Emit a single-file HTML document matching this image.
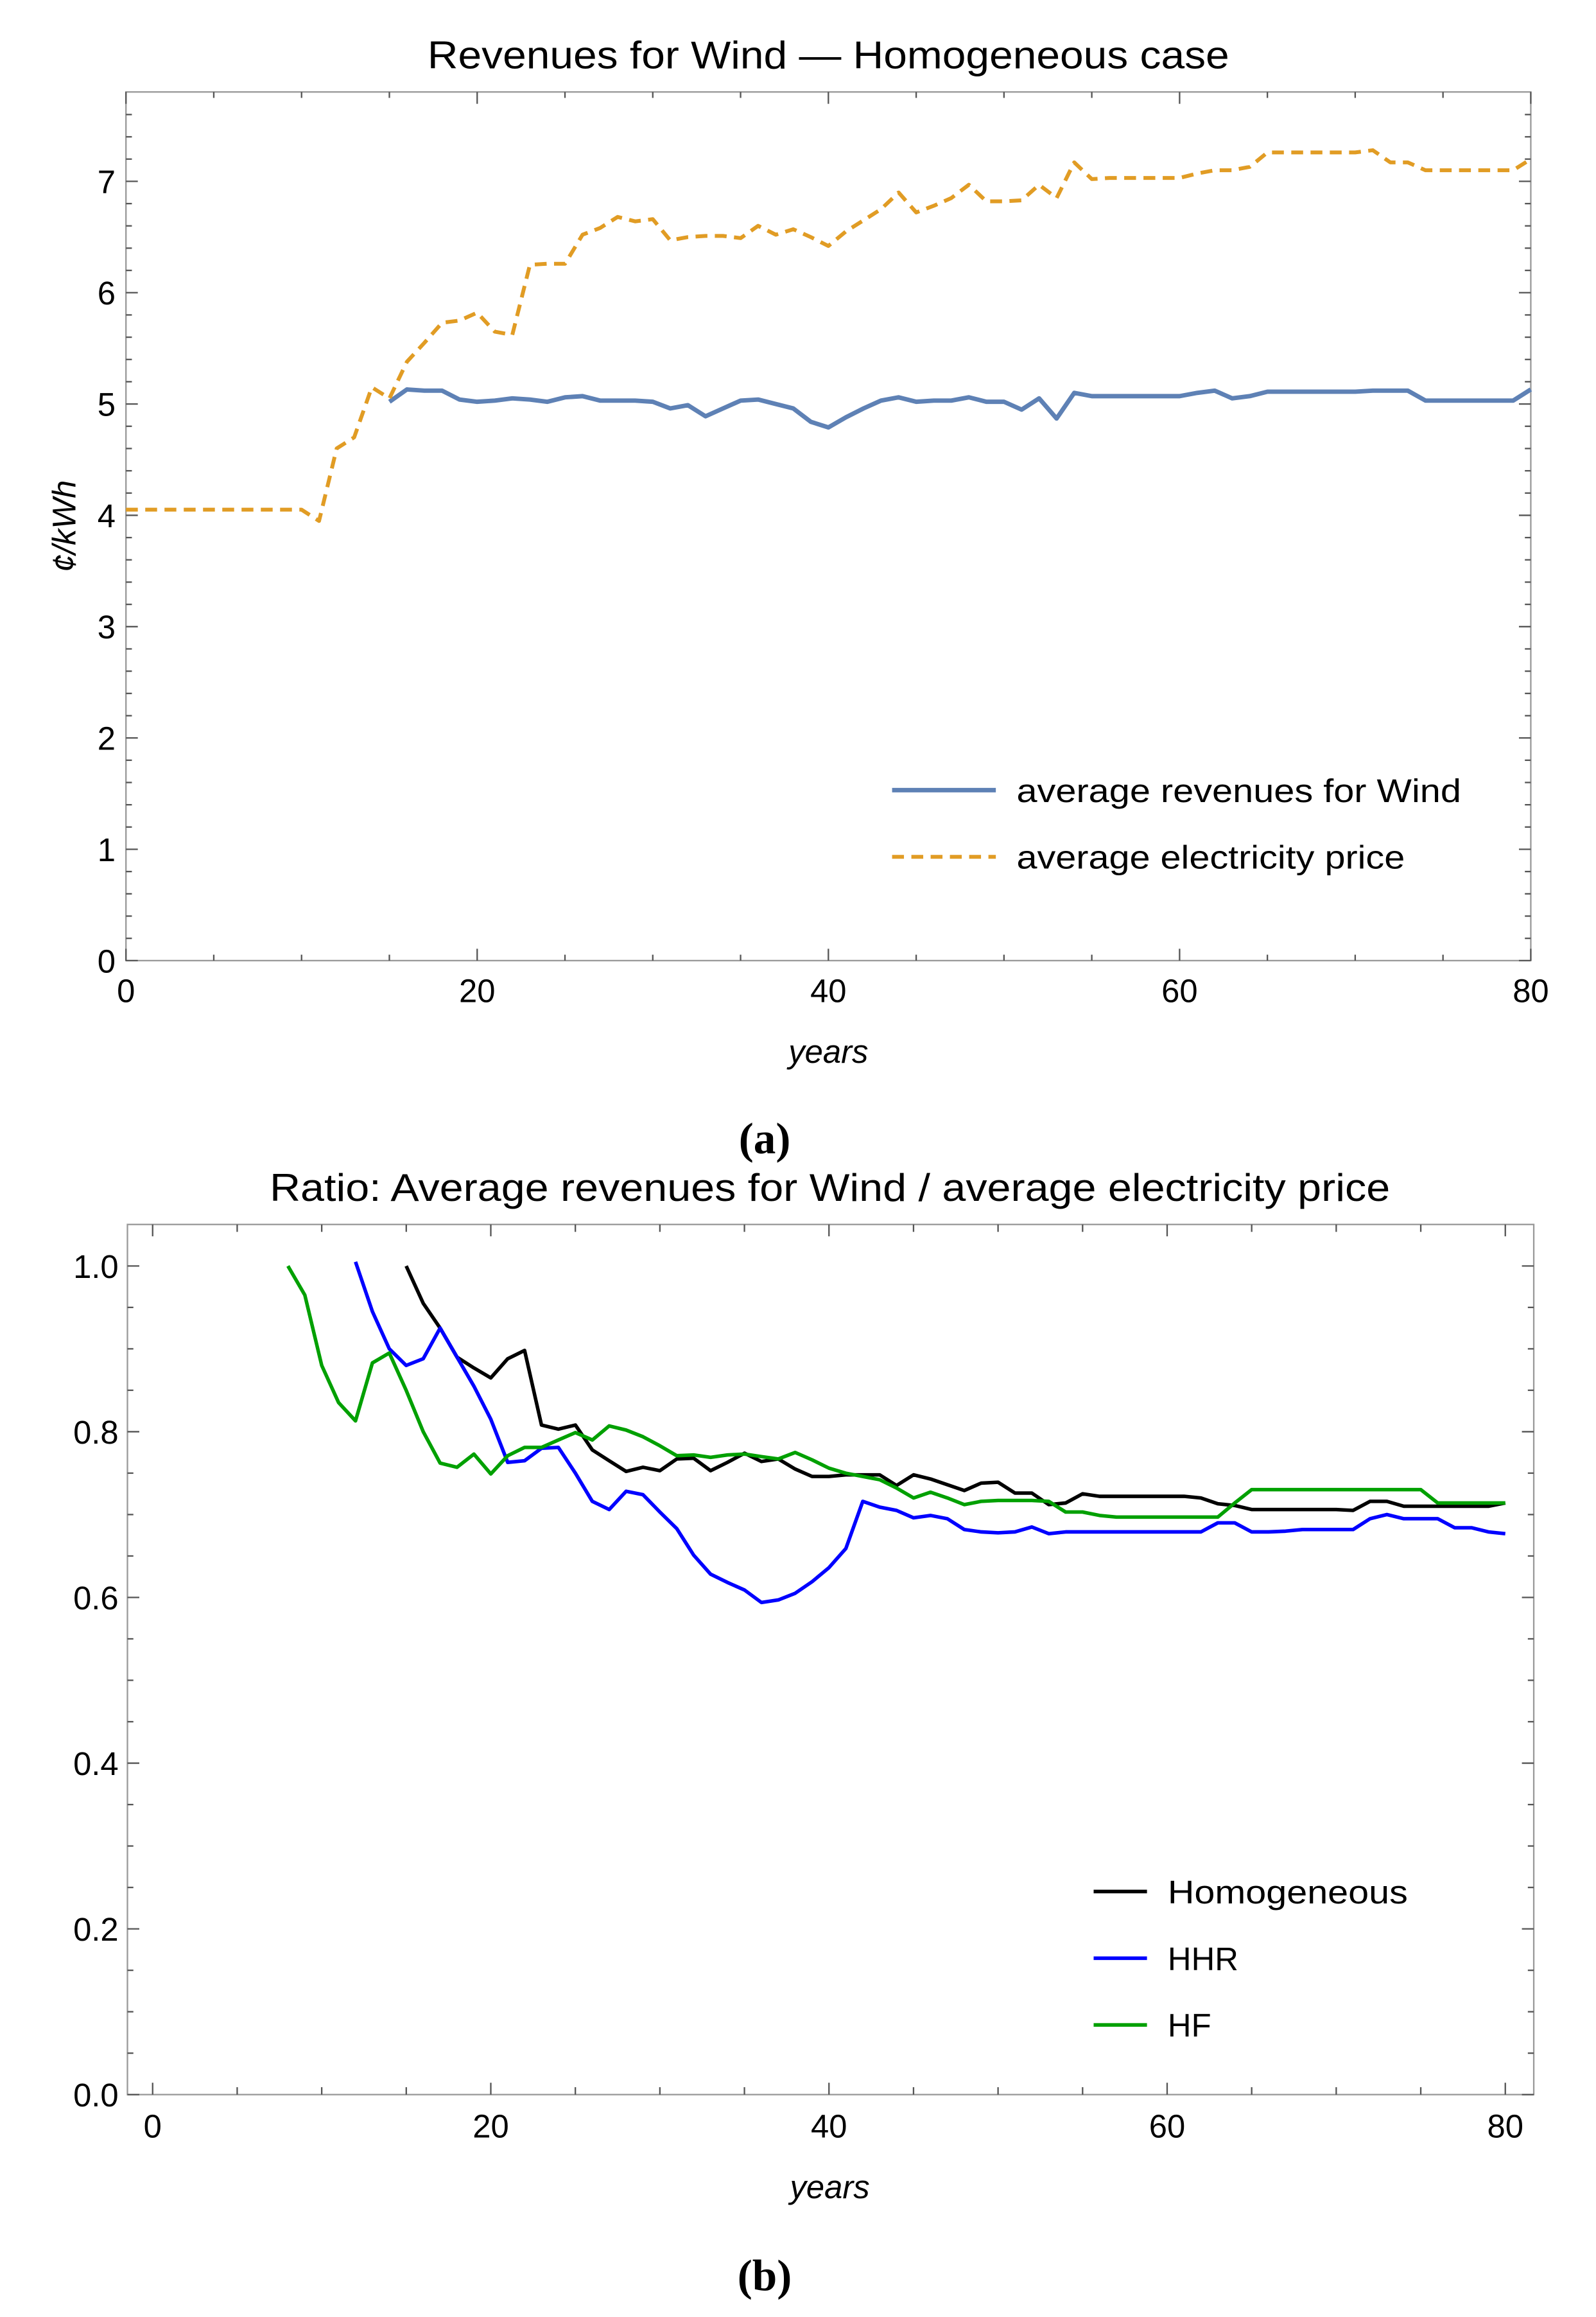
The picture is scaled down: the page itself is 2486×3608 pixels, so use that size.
<!DOCTYPE html>
<html><head><meta charset="utf-8">
<style>
html,body{margin:0;padding:0;background:#fff;}
svg{display:block;}
text{font-family:"Liberation Sans",sans-serif;fill:#000;}
</style></head>
<body>
<svg id="s" width="2486" height="3608" viewBox="0 0 1077 1563" xmlns="http://www.w3.org/2000/svg">
<rect width="1077" height="1563" fill="#fff"/>
<g id="g"></g>
<text x="559" y="46" font-size="26" text-anchor="middle" textLength="541" lengthAdjust="spacingAndGlyphs">Revenues for Wind — Homogeneous case</text>
<text x="559" y="717" font-size="22" font-style="italic" text-anchor="middle">years</text>
<text transform="translate(51,355) rotate(-90)" font-size="22" font-style="italic" text-anchor="middle">¢/kWh</text>
<text x="686" y="541" font-size="22" textLength="300" lengthAdjust="spacingAndGlyphs">average revenues for Wind</text>
<text x="686" y="586" font-size="22" textLength="262" lengthAdjust="spacingAndGlyphs">average electricity price</text>
<line x1="602" y1="533" x2="672" y2="533" stroke="#5e81b5" stroke-width="3"/>
<line x1="602" y1="578" x2="672" y2="578" stroke="#e19c24" stroke-width="2.6" stroke-dasharray="8,5"/>
<text x="516" y="778" font-size="30" font-weight="bold" text-anchor="middle" style="font-family:'Liberation Serif',serif">(a)</text>
<text x="560" y="810" font-size="26" text-anchor="middle" textLength="756" lengthAdjust="spacingAndGlyphs">Ratio: Average revenues for Wind / average electricity price</text>
<text x="560" y="1483" font-size="22" font-style="italic" text-anchor="middle">years</text>
<text x="788" y="1284" font-size="22" textLength="162" lengthAdjust="spacingAndGlyphs">Homogeneous</text>
<text x="788" y="1329" font-size="22">HHR</text>
<text x="788" y="1374" font-size="22">HF</text>
<line x1="738" y1="1276" x2="774" y2="1276" stroke="#000" stroke-width="2.4"/>
<line x1="738" y1="1321" x2="774" y2="1321" stroke="#0000ff" stroke-width="2.4"/>
<line x1="738" y1="1366" x2="774" y2="1366" stroke="#00a000" stroke-width="2.4"/>
<text x="516" y="1545" font-size="30" font-weight="bold" text-anchor="middle" style="font-family:'Liberation Serif',serif">(b)</text>
</svg>
<script>
var NS="http://www.w3.org/2000/svg",G=document.getElementById("g");
function el(t,a){var e=document.createElementNS(NS,t);for(var k in a)e.setAttribute(k,a[k]);G.appendChild(e);return e;}
function txt(x,y,s,anc,fs){var e=el("text",{x:x,y:y,"font-size":fs||22,"text-anchor":anc||"middle"});e.textContent=s;}
var ax=function(t){return 85+11.85*t},ay=function(v){return 648-75.1*v};
el("rect",{x:85,y:62,width:948,height:586,fill:"none",stroke:"#999","stroke-width":1});
for(var t=0;t<=80;t+=5){var M=t%20==0,L=M?8:4;
 el("line",{x1:ax(t),y1:648,x2:ax(t),y2:648-L,stroke:"#555","stroke-width":1});
 el("line",{x1:ax(t),y1:62,x2:ax(t),y2:62+L,stroke:"#555","stroke-width":1});
 if(M)txt(ax(t),676,String(t));}
for(var i=0;i<=38;i++){var v=i*0.2,M=i%5==0,L=M?8:4;
 el("line",{x1:85,y1:ay(v),x2:85+L,y2:ay(v),stroke:"#555","stroke-width":1});
 el("line",{x1:1033,y1:ay(v),x2:1033-L,y2:ay(v),stroke:"#555","stroke-width":1});
 if(M)txt(78,ay(v)+8,String(i/5),"end");}
function pl(pts,fx,fy,col,w,dash){var s=pts.map(function(p){return fx(p[0]).toFixed(1)+","+fy(p[1]).toFixed(1)}).join(" ");
 var a={points:s,fill:"none",stroke:col,"stroke-width":w,"stroke-linejoin":"round"};if(dash)a["stroke-dasharray"]=dash;el("polyline",a);}
function ser(start,arr){return arr.map(function(v,i){return [start+i,v]});}
var orange=[[0,4.05],[10,4.05]].concat(ser(11,[3.95,4.6,4.7,5.15,5.05,5.38,5.55,5.73,5.75,5.82,5.65,5.62,6.25,6.26,6.26,6.52,6.58,6.68,6.64,6.66,6.47,6.5,6.51,6.51,6.49,6.6,6.52,6.57,6.5,6.42,6.55,6.65,6.75,6.9,6.72,6.78,6.85,6.97,6.82,6.82,6.83,6.97,6.85,7.17,7.02,7.03,7.03,7.03,7.03,7.03,7.07,7.1,7.1,7.13,7.26,7.26,7.26,7.26,7.26,7.26,7.28,7.17,7.17,7.1,7.1,7.1,7.1,7.1,7.1,7.2]));
var blueA=ser(15,[5.02,5.13,5.12,5.12,5.04,5.02,5.03,5.05,5.04,5.02,5.06,5.07,5.03,5.03,5.03,5.02,4.96,4.99,4.89,4.96,5.03,5.04,5.0,4.96,4.84,4.79,4.88,4.96,5.03,5.06,5.02,5.03,5.03,5.06,5.02,5.02,4.95,5.05,4.87,5.1,5.07,5.07,5.07,5.07,5.07,5.07,5.1,5.12,5.05,5.07,5.11,5.11,5.11,5.11,5.11,5.11,5.12,5.12,5.12,5.03,5.03,5.03,5.03,5.03,5.03,5.13]);
pl(blueA,ax,ay,"#5e81b5",3);
pl(orange,ax,ay,"#e19c24",2.6,"8,5");
var bx=function(t){return 103+11.41*t},by=function(v){return 1413-559*v};
el("rect",{x:86,y:826,width:949,height:587,fill:"none",stroke:"#999","stroke-width":1});
for(var t=0;t<=80;t+=5){var M=t%20==0,L=M?8:5;
 el("line",{x1:bx(t),y1:1413,x2:bx(t),y2:1413-L,stroke:"#555","stroke-width":1});
 el("line",{x1:bx(t),y1:826,x2:bx(t),y2:826+L,stroke:"#555","stroke-width":1});
 if(M)txt(bx(t),1442,String(t));}
for(var i=0;i<=20;i++){var v=i*0.05,M=i%4==0,L=M?8:4;
 el("line",{x1:86,y1:by(v),x2:86+L,y2:by(v),stroke:"#555","stroke-width":1});
 el("line",{x1:1035,y1:by(v),x2:1035-L,y2:by(v),stroke:"#555","stroke-width":1});
 if(M)txt(80,by(v)+8,v.toFixed(1),"end");}
var blk=ser(15,[1.0,0.955,0.925,0.89,0.877,0.865,0.888,0.898,0.808,0.803,0.808,0.778,0.765,0.752,0.757,0.753,0.767,0.768,0.753,0.763,0.774,0.764,0.767,0.755,0.746,0.746,0.748,0.748,0.748,0.735,0.748,0.743,0.736,0.729,0.738,0.739,0.726,0.726,0.712,0.714,0.725,0.722,0.722,0.722,0.722,0.722,0.722,0.72,0.713,0.711,0.706,0.706,0.706,0.706,0.706,0.706,0.705,0.716,0.716,0.71,0.71,0.71,0.71,0.71,0.71,0.714]);
var hhr=ser(12,[1.005,0.945,0.9,0.88,0.888,0.925,0.89,0.855,0.815,0.763,0.765,0.78,0.781,0.75,0.716,0.706,0.728,0.724,0.703,0.683,0.651,0.628,0.618,0.609,0.594,0.597,0.605,0.619,0.636,0.659,0.716,0.709,0.705,0.696,0.699,0.695,0.682,0.679,0.678,0.679,0.685,0.677,0.679,0.679,0.679,0.679,0.679,0.679,0.679,0.679,0.679,0.69,0.69,0.679,0.679,0.68,0.682,0.682,0.682,0.682,0.695,0.7,0.695,0.695,0.695,0.684,0.684,0.679,0.677]);
var hf=ser(8,[1.0,0.965,0.88,0.835,0.813,0.883,0.895,0.85,0.8,0.762,0.757,0.773,0.749,0.771,0.781,0.781,0.79,0.799,0.79,0.807,0.802,0.794,0.783,0.771,0.772,0.769,0.772,0.773,0.77,0.767,0.775,0.766,0.756,0.75,0.746,0.742,0.732,0.72,0.727,0.72,0.712,0.716,0.717,0.717,0.717,0.716,0.703,0.703,0.699,0.697,0.697,0.697,0.697,0.697,0.697,0.697,0.714,0.73,0.73,0.73,0.73,0.73,0.73,0.73,0.73,0.73,0.73,0.73,0.714,0.714,0.714,0.714,0.714]);
pl(blk,bx,by,"#000",2.4);
pl(hhr,bx,by,"#0000ff",2.4);
pl(hf,bx,by,"#00a000",2.4);
</script>
</body></html>
